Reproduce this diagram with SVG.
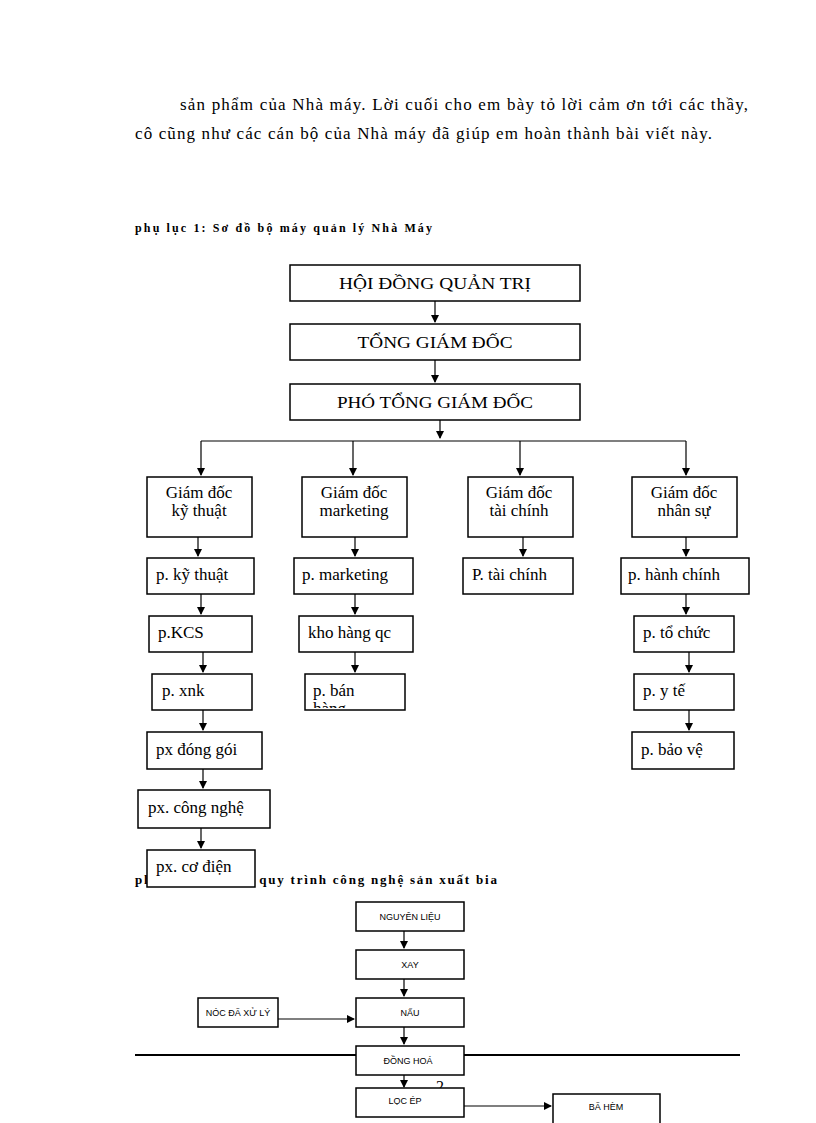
<svg xmlns="http://www.w3.org/2000/svg" width="816" height="1123" viewBox="0 0 816 1123">
<defs>
<marker id="a" markerWidth="8" markerHeight="8" refX="7" refY="4" orient="auto" markerUnits="userSpaceOnUse"><path d="M0,0L8,4L0,8z" fill="#000"/></marker>
<style>
.b{fill:#fff;stroke:#000;stroke-width:1.5}
.t{font-family:"Liberation Serif",serif;font-size:17px;text-anchor:middle}
.tl{font-family:"Liberation Serif",serif;font-size:17px}
.s{font-family:"Liberation Sans",Arial,sans-serif;font-size:9px;text-anchor:middle}
.p{font-family:"Liberation Serif",serif;font-size:17px}
.c{stroke:#000;stroke-width:1.2;fill:none}
</style>
</defs>
<rect width="816" height="1123" fill="#fff"/>
<text class="p" x="180" y="110" textLength="568" lengthAdjust="spacing">sản phẩm của Nhà máy. Lời cuối cho em bày tỏ lời cảm ơn tới các thầy,</text>
<text class="p" x="135" y="139" textLength="577" lengthAdjust="spacing">cô cũng như các cán bộ của Nhà máy đã giúp em hoàn thành bài viết này.</text>
<text x="135" y="232" font-family="Liberation Serif,serif" font-size="12" font-weight="bold" textLength="297" lengthAdjust="spacing">phụ lục 1: Sơ đồ bộ máy quản lý Nhà Máy</text>
<text x="135" y="884" font-family="Liberation Serif,serif" font-size="13" font-weight="bold" textLength="362" lengthAdjust="spacing">phụ lục 2: Sơ đồ quy trình  công nghệ sản xuất bia</text>
<line x1="135" y1="1055" x2="740" y2="1055" stroke="#000" stroke-width="2"/>
<text x="436" y="1092" font-family="Liberation Serif,serif" font-size="16">2</text>
<g id="connectors" class="c">
<path d="M435 301V322" marker-end="url(#a)"/>
<path d="M435 360V382" marker-end="url(#a)"/>
<path d="M440 420V438" marker-end="url(#a)"/>
<path d="M201 441H686"/>
<path d="M201 441V475" marker-end="url(#a)"/>
<path d="M353 441V475" marker-end="url(#a)"/>
<path d="M520 441V475" marker-end="url(#a)"/>
<path d="M686 441V475" marker-end="url(#a)"/>
<path d="M198 537V556" marker-end="url(#a)"/>
<path d="M355 537V556" marker-end="url(#a)"/>
<path d="M523 537V556" marker-end="url(#a)"/>
<path d="M686 537V556" marker-end="url(#a)"/>
<path d="M201 594V614" marker-end="url(#a)"/>
<path d="M355 594V614" marker-end="url(#a)"/>
<path d="M686 594V614" marker-end="url(#a)"/>
<path d="M203 652V672" marker-end="url(#a)"/>
<path d="M355 652V672" marker-end="url(#a)"/>
<path d="M689 652V672" marker-end="url(#a)"/>
<path d="M203 710V730" marker-end="url(#a)"/>
<path d="M689 710V730" marker-end="url(#a)"/>
<path d="M203 769V788" marker-end="url(#a)"/>
<path d="M201 828V848" marker-end="url(#a)"/>
<path d="M404 931V948" marker-end="url(#a)"/>
<path d="M404 979V996" marker-end="url(#a)"/>
<path d="M278 1019H354" marker-end="url(#a)"/>
<path d="M404 1027V1044" marker-end="url(#a)"/>
<path d="M404 1075V1087" marker-end="url(#a)"/>
<path d="M464 1106H551" marker-end="url(#a)"/>
</g>
<g id="n1"><rect class="b" x="290" y="265" width="290" height="36"/><text class="t" x="435" y="289" textLength="192" lengthAdjust="spacingAndGlyphs">HỘI ĐỒNG QUẢN TRỊ</text></g>
<g id="n2"><rect class="b" x="290" y="324" width="290" height="36"/><text class="t" x="435" y="348" textLength="155" lengthAdjust="spacingAndGlyphs">TỔNG GIÁM ĐỐC</text></g>
<g id="n3"><rect class="b" x="290" y="384" width="290" height="36"/><text class="t" x="435" y="408" textLength="196" lengthAdjust="spacingAndGlyphs">PHÓ TỔNG GIÁM ĐỐC</text></g>
<g id="d1"><rect class="b" x="147" y="477" width="105" height="60"/><text class="t" x="199" y="498">Giám đốc</text><text class="t" x="199" y="516">kỹ thuật</text></g>
<g id="d2"><rect class="b" x="302" y="477" width="105" height="60"/><text class="t" x="354" y="498">Giám đốc</text><text class="t" x="354" y="516">marketing</text></g>
<g id="d3"><rect class="b" x="468" y="477" width="105" height="60"/><text class="t" x="519" y="498">Giám đốc</text><text class="t" x="519" y="516">tài chính</text></g>
<g id="d4"><rect class="b" x="632" y="477" width="105" height="60"/><text class="t" x="684" y="498">Giám đốc</text><text class="t" x="684" y="516">nhân sự</text></g>
<g id="r1"><rect class="b" x="147" y="558" width="107" height="36"/><text class="tl" x="156" y="580">p. kỹ thuật</text></g>
<g id="r2"><rect class="b" x="294" y="558" width="119" height="36"/><text class="tl" x="302" y="580">p. marketing</text></g>
<g id="r3"><rect class="b" x="463" y="558" width="110" height="36"/><text class="tl" x="472" y="580">P. tài chính</text></g>
<g id="r4"><rect class="b" x="621" y="558" width="128" height="36"/><text class="tl" x="628" y="580">p. hành chính</text></g>
<g id="r5"><rect class="b" x="149" y="616" width="103" height="36"/><text class="tl" x="158" y="638">p.KCS</text></g>
<g id="r6"><rect class="b" x="299" y="616" width="114" height="36"/><text class="tl" x="308" y="638">kho hàng qc</text></g>
<g id="r7"><rect class="b" x="634" y="616" width="100" height="36"/><text class="tl" x="643" y="638">p. tổ chức</text></g>
<g id="r8"><rect class="b" x="152" y="674" width="100" height="36"/><text class="tl" x="162" y="696">p. xnk</text></g>
<g id="r9"><rect class="b" x="305" y="674" width="100" height="36"/><svg x="305" y="674" width="100" height="34"><text class="tl" x="8" y="22">p. bán</text><text class="tl" x="8" y="40">hàng</text></svg></g>
<g id="r10"><rect class="b" x="634" y="674" width="100" height="36"/><text class="tl" x="643" y="696">p. y tế</text></g>
<g id="r11"><rect class="b" x="147" y="732" width="115" height="37"/><text class="tl" x="156" y="755">px đóng gói</text></g>
<g id="r12"><rect class="b" x="632" y="732" width="102" height="37"/><text class="tl" x="641" y="755">p. bảo vệ</text></g>
<g id="r13"><rect class="b" x="138" y="790" width="132" height="38"/><text class="tl" x="148" y="813">px. công nghệ</text></g>
<g id="r14"><rect class="b" x="147" y="850" width="108" height="37"/><text class="tl" x="156" y="872">px. cơ điện</text></g>
<g id="q1"><rect class="b" x="356" y="902" width="108" height="29"/><text class="s" x="410" y="920">NGUYÊN LIỆU</text></g>
<g id="q2"><rect class="b" x="356" y="950" width="108" height="29"/><text class="s" x="410" y="968">XAY</text></g>
<g id="q3"><rect class="b" x="356" y="998" width="108" height="29"/><text class="s" x="410" y="1016">NẤU</text></g>
<g id="q4"><rect class="b" x="198" y="998" width="80" height="29"/><text class="s" x="238" y="1016">NÓC  ĐÃ XỬ LÝ</text></g>
<g id="q5"><rect class="b" x="356" y="1046" width="108" height="29"/><text class="s" x="408" y="1064">ĐỒNG   HOÁ</text></g>
<g id="q6"><rect class="b" x="356" y="1088" width="108" height="29"/><text class="s" x="405" y="1104">LỌC ÉP</text></g>
<g id="q7"><rect class="b" x="553" y="1094" width="107" height="35"/><text class="s" x="606" y="1110">BÃ HÈM</text></g>
</svg>
